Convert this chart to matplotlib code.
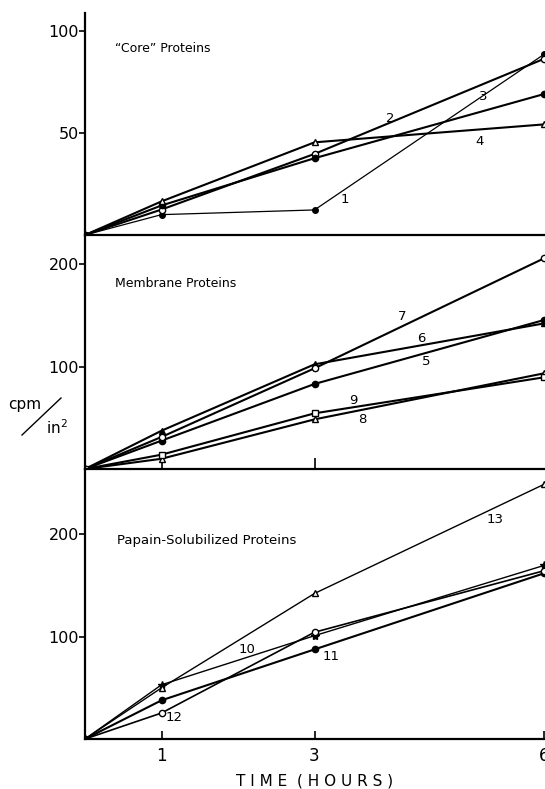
import matplotlib
matplotlib.use("Agg")
import matplotlib.pyplot as plt
from matplotlib.lines import Line2D

plt.rcParams['font.family'] = ['DejaVu Sans']

hours = [0, 1, 3, 6]
x_ticks = [1, 3, 6]

# "Core" proteins
core1 = [0, 10.0, 12.3, 88.7]
core2 = [0, 12.5, 39.8, 86.5]
core3 = [0, 14.5, 37.7, 69.2]
core4 = [0, 16.5, 45.5, 54.3]

# Membrane proteins
mem5 = [0, 27.7, 83.1, 145.6]
mem6 = [0, 37.4, 102.3, 142.3]
mem7 = [0, 31.3, 98.4, 205.9]
mem8 = [0, 10.0, 48.5, 93.5]
mem9 = [0, 14.0, 54.4, 89.6]

# Papain-solubilized proteins
pap10 = [0, 53.0, 101.0, 169.7]
pap11 = [0, 37.8, 87.6, 162.0]
pap12 = [0, 25.4, 104.4, 164.5]
pap13 = [0, 50.0, 142.3, 249.0]

W, H = 545, 789
fig = plt.figure(figsize=(W / 100, H / 100), dpi=100)

left = 85 / W
width = (544 - 85) / W

def rect(top_px, bot_px):
    return [left, 1 - bot_px / H, width, (bot_px - top_px) / H]

ax1 = fig.add_axes(rect(13, 235))
ax2 = fig.add_axes(rect(235, 469))
ax3 = fig.add_axes(rect(469, 739))

K = 'black'

def style(ax, ymax, yticks):
    ax.set_xlim(0, 6)
    ax.set_ylim(0, ymax)
    for s in ['top', 'right']:
        ax.spines[s].set_visible(False)
    for s in ['left', 'bottom']:
        ax.spines[s].set_linewidth(1.6)
        ax.spines[s].set_color(K)
    ax.set_yticks(yticks)
    ax.set_yticklabels([str(v) for v in yticks])
    ax.tick_params(axis='y', direction='out', length=4, width=1.2,
                   labelsize=11.5, pad=0.5, colors=K)
    ax.patch.set_alpha(0)

style(ax1, 109, [50, 100])
style(ax2, 228.7, [100, 200])
style(ax3, 264, [100, 200])

ax1.set_xticks([])
ax2.set_xticks([1, 3])
ax2.tick_params(axis='x', direction='in', length=8, width=1.2, labelbottom=False)
ax3.set_xticks(x_ticks)
ax3.set_xticklabels([str(v) for v in x_ticks])
ax3.tick_params(axis='x', direction='in', length=6, width=1.2, labelsize=12, pad=6)
ax3.set_xlabel('T I M E  ( H O U R S )', fontsize=11, labelpad=6)

def plot(ax, y, marker, filled=True, lw=1.5, ms=4.5):
    ax.plot(hours, y, color=K, lw=lw, marker=marker, ms=ms,
            mfc=K if filled else 'white', mec=K, mew=1.0)

plot(ax1, core1, 'o', True, lw=0.9, ms=4)
plot(ax1, core2, 'o', False)
plot(ax1, core3, 'o', True)
plot(ax1, core4, '^', False)

plot(ax2, mem5, 'o', True)
plot(ax2, mem6, '^', True)
plot(ax2, mem7, 'o', False)
plot(ax2, mem8, '^', False)
plot(ax2, mem9, 's', False)

plot(ax3, pap10, '*', True, lw=1.0, ms=6)
plot(ax3, pap11, 'o', True)
plot(ax3, pap12, 'o', False, lw=1.2)
plot(ax3, pap13, '^', False, lw=1.0)

fs_num = 9.5
for ax, txt, xx, yy in [
    (ax1, '1', 3.40, 17.2), (ax1, '2', 3.99, 57.3), (ax1, '3', 5.20, 67.9), (ax1, '4', 5.16, 45.8),
    (ax2, '7', 4.15, 149.5), (ax2, '6', 4.40, 127.7), (ax2, '5', 4.46, 104.9),
    (ax2, '9', 3.51, 67.4), (ax2, '8', 3.63, 47.9),
    (ax3, '10', 2.12, 87.4), (ax3, '11', 3.21, 80.8), (ax3, '12', 1.17, 21.5), (ax3, '13', 5.36, 215),
]:
    ax.text(xx, yy, txt, fontsize=fs_num, ha='center', va='center', color=K)

ax1.text(0.39, 91.6, '\u201cCore\u201d Proteins', fontsize=9, ha='left', va='center')
ax2.text(0.39, 181.4, 'Membrane Proteins', fontsize=9, ha='left', va='center')
ax3.text(0.42, 194, 'Papain-Solubilized Proteins', fontsize=9.5, ha='left', va='center')

# y-axis label "cpm / in^2"
fig.text(25 / W, 1 - 405 / H, 'cpm', fontsize=11, ha='center', va='center')
fig.text(57 / W, 1 - 428 / H, r'in$^2$', fontsize=11, ha='center', va='center')
fig.add_artist(Line2D([22 / W, 61 / W], [1 - 435 / H, 1 - 398 / H], color=K, lw=1.0,
                      transform=fig.transFigure))

fig.savefig('out.png', dpi=100, facecolor='white')
